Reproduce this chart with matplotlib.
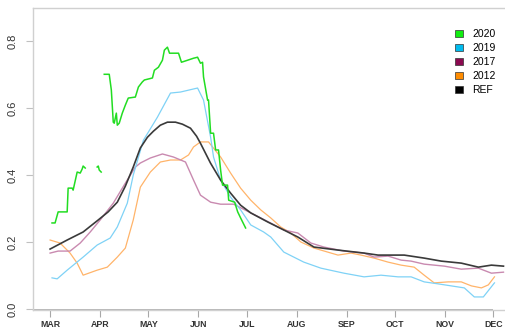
import matplotlib
matplotlib.use("Agg")
import matplotlib.pyplot as plt
from matplotlib.patches import Patch

plt.rcParams['font.family'] = ['Liberation Sans', 'DejaVu Sans']

# day of year for first of each month (Mar..Dec)
month_days = [60, 91, 121, 152, 182, 213, 244, 274, 305, 335]
month_labels = ['MAR', 'APR', 'MAY', 'JUN', 'JUL', 'AUG', 'SEP', 'OCT', 'NOV', 'DEC']

# REF
ref_x = [60, 70.6, 80.5, 89.9, 96, 101.7, 106.7, 111.6, 116, 120.4, 124.1, 128.4, 132.8,
         137.8, 142.1, 147.1, 150.9, 153.3, 159.5, 165.8, 172, 178.2, 184.5, 195, 205,
         213.7, 223.7, 238.6, 254.8, 263.5, 279.7, 292.1, 302.7, 315.1, 325.7, 333.8, 341.3]
ref_y = [0.179, 0.206, 0.230, 0.266, 0.290, 0.319, 0.367, 0.424, 0.481, 0.513, 0.531, 0.549, 0.558,
         0.558, 0.552, 0.540, 0.516, 0.495, 0.436, 0.385, 0.346, 0.310, 0.287, 0.260, 0.236,
         0.215, 0.185, 0.176, 0.167, 0.161, 0.161, 0.152, 0.143, 0.137, 0.125, 0.131, 0.128]

# 2019
y2019_x = [61.2, 64.4, 70.6, 80.5, 89.2, 97.3, 101.7, 107.9, 111.6, 117.9, 126.6, 134.7,
           140.9, 151.5, 155.2, 159.6, 161.4, 163.9, 165.8, 172.0, 178.2, 184.5, 192.5,
           196.9, 205.0, 217.4, 228.0, 242.3, 254.8, 265.3, 275.9, 284.0, 292.1, 300.8,
           308.9, 317.0, 323.2, 328.8, 335.7]
y2019_y = [0.093, 0.090, 0.116, 0.155, 0.191, 0.212, 0.245, 0.316, 0.400, 0.504, 0.573, 0.645,
           0.648, 0.660, 0.624, 0.513, 0.454, 0.415, 0.385, 0.334, 0.296, 0.251, 0.230,
           0.215, 0.170, 0.140, 0.122, 0.107, 0.096, 0.101, 0.096, 0.096, 0.081, 0.075,
           0.069, 0.063, 0.036, 0.036, 0.078]

# 2017
y2017_x = [60, 65, 72.4, 78.7, 84.9, 91.1, 99.2, 106.7, 112.9, 116.0, 122.2, 129.7, 136.5,
           144.0, 149.0, 153.3, 159.6, 165.8, 173.9, 184.5, 190.7, 205.0, 213.7, 221.8,
           229.9, 242.3, 254.8, 261.0, 269.7, 277.8, 284.0, 292.1, 304.6, 315.1, 325.7,
           333.8, 341.3]
y2017_y = [0.167, 0.173, 0.173, 0.197, 0.230, 0.266, 0.316, 0.376, 0.424, 0.436, 0.451, 0.463, 0.454,
           0.439, 0.385, 0.340, 0.319, 0.313, 0.313, 0.287, 0.272, 0.236, 0.227, 0.197,
           0.185, 0.173, 0.167, 0.155, 0.158, 0.146, 0.143, 0.134, 0.128, 0.119, 0.122,
           0.107, 0.110]

# 2012
y2012_x = [60, 66.2, 72.4, 76.8, 80.5, 89.2, 95.5, 101.7, 106.7, 111.6, 116.0, 122.2, 128.4,
           134.7, 140.9, 145.9, 149.0, 153.3, 158.3, 165.8, 172.0, 178.2, 184.5, 190.7,
           196.9, 203.1, 209.3, 215.6, 223.7, 238.6, 246.7, 252.9, 261.0, 269.7, 277.8,
           285.9, 292.1, 298.3, 307.0, 315.1, 321.4, 327.6, 331.9, 335.7]
y2012_y = [0.206, 0.197, 0.167, 0.137, 0.101, 0.116, 0.125, 0.155, 0.182, 0.266, 0.364, 0.409, 0.439,
           0.445, 0.445, 0.460, 0.484, 0.499, 0.499, 0.454, 0.406, 0.361, 0.325, 0.296,
           0.272, 0.245, 0.227, 0.200, 0.182, 0.161, 0.167, 0.161, 0.152, 0.140, 0.131,
           0.125, 0.101, 0.078, 0.081, 0.081, 0.069, 0.063, 0.072, 0.096]

# 2020 (three pieces with gaps)
y2020_a_x = [61.2, 63.1, 65.0, 70.6, 71.2, 73.7, 74.3, 76.8, 78.7, 79.9, 80.5, 81.8]
y2020_a_y = [0.257, 0.257, 0.290, 0.290, 0.361, 0.361, 0.355, 0.409, 0.406, 0.418, 0.427, 0.421]
y2020_b_x = [89.2, 89.9, 90.5, 91.7]
y2020_b_y = [0.424, 0.427, 0.415, 0.409]
y2020_c_x = [93.6, 96.7, 98.0, 99.2, 99.8, 101.1, 101.7, 102.9, 104.8, 106.7, 108.5, 112.9,
             114.8, 117.2, 118.5, 123.5, 124.7, 127.2, 129.7, 130.9, 132.8, 134.1, 139.7,
             141.5, 145.3, 149.0, 151.5, 153.3, 154.6, 155.2, 157.7, 158.3, 159.6, 161.4,
             162.7, 164.5, 165.8, 167.0, 170.1, 170.8, 174.5, 176.4, 178.2, 181.3]
y2020_c_y = [0.701, 0.701, 0.654, 0.558, 0.555, 0.585, 0.549, 0.555, 0.585, 0.609, 0.630, 0.633,
             0.663, 0.678, 0.684, 0.690, 0.713, 0.722, 0.743, 0.773, 0.782, 0.764, 0.764,
             0.737, 0.743, 0.749, 0.752, 0.734, 0.737, 0.693, 0.624, 0.624, 0.525, 0.525,
             0.475, 0.475, 0.415, 0.370, 0.370, 0.325, 0.319, 0.290, 0.272, 0.242]

fig = plt.figure(figsize=(5.06, 3.29), dpi=100)
ax = fig.add_axes([33 / 506, 19 / 329, 1 - 33 / 506 + 0.01, 302 / 329])

ax.plot(y2012_x, y2012_y, color='#ffb46a', lw=0.9)
ax.plot(y2017_x, y2017_y, color='#c98ab0', lw=1.0)
ax.plot(y2019_x, y2019_y, color='#7fd2f6', lw=0.9)
ax.plot(ref_x, ref_y, color='#3a3a3a', lw=1.2)
for gx, gy in [(y2020_a_x, y2020_a_y), (y2020_b_x, y2020_b_y), (y2020_c_x, y2020_c_y)]:
    ax.plot(gx, gy, color='#22dd22', lw=1.1)

ax.set_xlim(49.4, 346)
ax.set_ylim(-0.003, 0.899)

for s in ['top', 'left', 'bottom']:
    ax.spines[s].set_color('#d0d0d0')
    ax.spines[s].set_linewidth(1.0)
ax.spines['right'].set_visible(False)
ax.hlines(-0.003, 49.4, month_days[-1], color='#a8a8a8', lw=1.2, clip_on=False)

ax.set_xticks(month_days)
ax.set_xticklabels(month_labels, fontsize=6.3, color='#333333', fontweight='bold')
ax.set_yticks([0.0, 0.2, 0.4, 0.6, 0.8])
ax.set_yticklabels(['0.0', '0.2', '0.4', '0.6', '0.8'], fontsize=8, color='#333333',
                   rotation=90, va='center')
ax.tick_params(axis='x', length=5, color='#a8a8a8', pad=2)
ax.tick_params(axis='y', length=5, color='#c0c0c0', pad=6)

handles = [Patch(facecolor=c, edgecolor='#333333', lw=0.5, label=l) for c, l in
           [('#11ee11', '2020'), ('#00bbee', '2019'), ('#8b0a50', '2017'),
            ('#ff8c00', '2012'), ('#000000', 'REF')]]
fig.legend(handles=handles, loc='upper left', bbox_to_anchor=(450 / 506, 1 - 24 / 329),
           frameon=False, handlelength=0.75, handleheight=0.75,
           handletextpad=0.9, labelspacing=0.38, borderpad=0, prop={'size': 7.5})

fig.savefig('out.png', dpi=100)
